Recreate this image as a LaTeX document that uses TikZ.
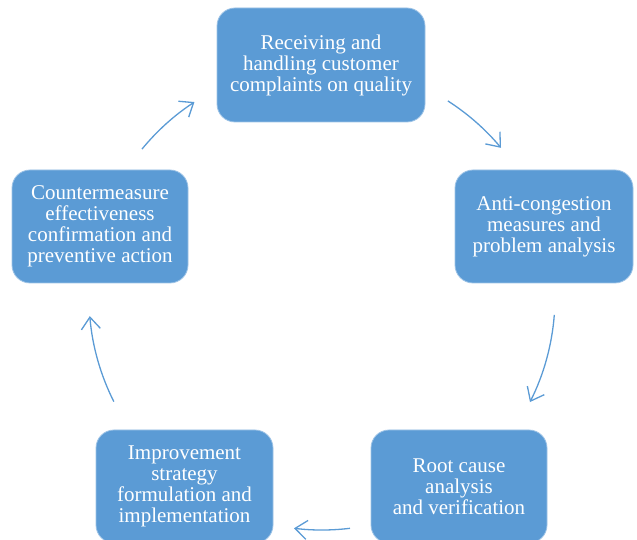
\documentclass[tikz,border=0pt]{standalone}
\usepackage{fontspec}
\setmainfont{Liberation Serif}
\usetikzlibrary{arrows.meta}
\definecolor{boxblue}{HTML}{5B9BD5}
\definecolor{boxedge}{HTML}{9DC3E6}
\tikzset{
  stepbox/.style={draw=boxedge, line width=0.8pt, fill=boxblue, rounded corners=18pt,
    text=white, align=center, inner sep=0pt,
    font=\fontsize{21}{21}\selectfont},
  cyclearrow/.style={draw=boxblue, line width=1.3pt,
    -{Straight Barb[length=12pt,width=19pt,line width=1.3pt]}}
}
\begin{document}
\begin{tikzpicture}[x=1pt,y=1pt]
\useasboundingbox (0,0) rectangle (637,540);
\coordinate (c) at (322,243);
\node[stepbox, minimum width=208pt, minimum height=114pt] (recv) at (321,475)
  {Receiving and\\handling customer\\complaints on quality};
\node[stepbox, minimum width=178pt, minimum height=113pt] (anti) at (544,313.5)
  {Anti-congestion\\measures and\\problem analysis};
\node[stepbox, minimum width=176pt, minimum height=113pt] (root) at (459,53.5)
  {Root cause\\analysis\\and verification};
\node[stepbox, minimum width=177pt, minimum height=113pt] (impr) at (184.5,53.5)
  {Improvement\\strategy\\formulation and\\implementation};
\node[stepbox, minimum width=176pt, minimum height=113pt] (conf) at (100,313.5)
  {Countermeasure\\effectiveness\\confirmation and\\preventive action};
\draw[cyclearrow] ([shift={(140.6:233)}]c) arc[start angle=140.6, end angle=123.2, radius=233];
\draw[cyclearrow] ([shift={(57.3:233)}]c) arc[start angle=57.3, end angle=39.8, radius=233];
\draw[cyclearrow] ([shift={(-4.4:233)}]c) arc[start angle=-4.4, end angle=-26.8, radius=233];
\draw[cyclearrow] ([shift={(-83.1:233)}]c) arc[start angle=-83.1, end angle=-96.9, radius=233];
\draw[cyclearrow] ([shift={(-153.3:233)}]c) arc[start angle=-153.3, end angle=-175.3, radius=233];
\end{tikzpicture}
\end{document}
